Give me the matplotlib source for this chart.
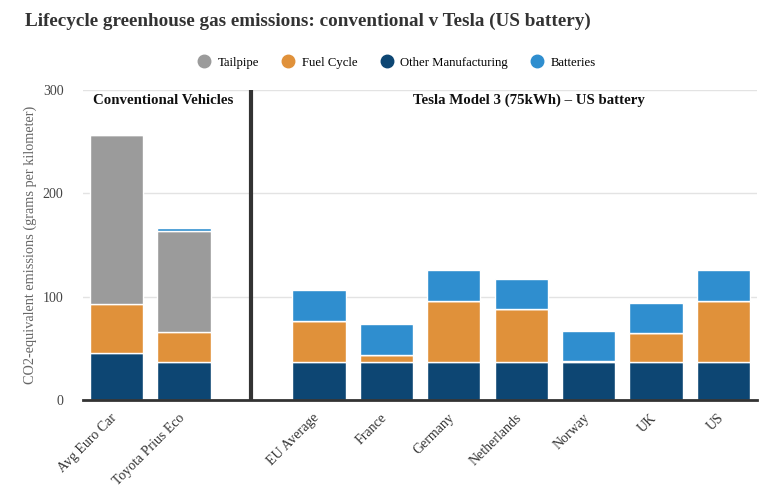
import numpy as np
import matplotlib.pyplot as plt
from matplotlib.transforms import ScaledTranslation

categories = ['Avg Euro Car', 'Toyota Prius Eco', '', 'EU Average', 'France', 'Germany',
              'Netherlands', 'Norway', 'UK', 'US']
other_manufacturing = [46, 37, 0, 37, 37, 37, 37, 37, 37, 37]
fuel_cycle = [47, 29, 0, 40, 7, 59, 51, 0.5, 27.5, 59]
tailpipe = [163, 98, 0, 0, 0, 0, 0, 0, 0, 0]
batteries = [0, 2.5, 0, 29.5, 29.5, 29.5, 29.5, 29.5, 29.5, 29.5]
yticks = [0, 100, 200, 300]

series = [('Other Manufacturing', other_manufacturing, '#0d4673'),
          ('Fuel Cycle', fuel_cycle, '#e0913a'),
          ('Tailpipe', tailpipe, '#9b9b9b'),
          ('Batteries', batteries, '#2f8ecf')]

plt.rcParams['font.family'] = ['Liberation Serif', 'DejaVu Serif']

fig = plt.figure(figsize=(7.75, 4.91), dpi=100)
ax = fig.add_axes([0.107, 0.185, 0.870, 0.632])

x = np.arange(len(categories))
bottom = np.zeros(len(categories))
colors = {}
for name, vals, col in series:
    vals = np.array(vals, dtype=float)
    ax.bar(x, vals, width=0.79, bottom=bottom, color=col, edgecolor='white',
           linewidth=1, zorder=3)
    colors[name] = col
    bottom += vals

# divider between the groups
ax.axvline(2, color='#333333', linewidth=3, zorder=4)

ax.set_xlim(-0.5, len(categories) - 0.5)
ax.set_ylim(0, 300)
ax.set_yticks(yticks)
ax.set_yticklabels([str(t) for t in yticks], color='#444444', fontsize=10)
ax.yaxis.grid(True, color='#e3e3e3', linewidth=1, zorder=0)
ax.set_axisbelow(True)
ax.tick_params(axis='y', length=0, pad=14)
ax.tick_params(axis='x', length=0, pad=8)
ax.set_xticks(x)
ax.set_xticklabels(categories, rotation=45, ha='right', rotation_mode='anchor',
                   fontsize=10, color='#333333')
shift = ScaledTranslation(-6 / 100, 0, fig.dpi_scale_trans)
for lbl in ax.get_xticklabels():
    lbl.set_transform(lbl.get_transform() + shift)
for s in ['top', 'right', 'left']:
    ax.spines[s].set_visible(False)
ax.spines['bottom'].set_color('#333333')
ax.spines['bottom'].set_linewidth(2)
ax.spines['bottom'].set_zorder(5)

ax.set_ylabel('CO2-equivalent emissions (grams per kilometer)', color='#666666',
              fontsize=10.3, labelpad=4)

ax.text(0.69, 290, 'Conventional Vehicles', ha='center', va='center',
        fontsize=10.7, fontweight='bold', color='#111111')
ax.text(6.11, 290, 'Tesla Model 3 (75kWh) \u2013 US battery', ha='center', va='center',
        fontsize=10.7, fontweight='bold', color='#111111')

fig.text(0.032, 0.957, 'Lifecycle greenhouse gas emissions: conventional v Tesla (US battery)',
         fontsize=13.8, fontweight='bold', color='#333333', ha='left', va='center')

order = ['Tailpipe', 'Fuel Cycle', 'Other Manufacturing', 'Batteries']
leg_handles = [plt.Line2D([], [], marker='o', linestyle='', markersize=9,
                          markerfacecolor=colors[n], markeredgecolor=colors[n])
               for n in order]
fig.legend(leg_handles, order, loc='center', bbox_to_anchor=(0.508, 0.872), ncol=4,
           frameon=False, fontsize=9.2, handletextpad=0.05, columnspacing=1.3)

fig.savefig('out.png', dpi=100)
